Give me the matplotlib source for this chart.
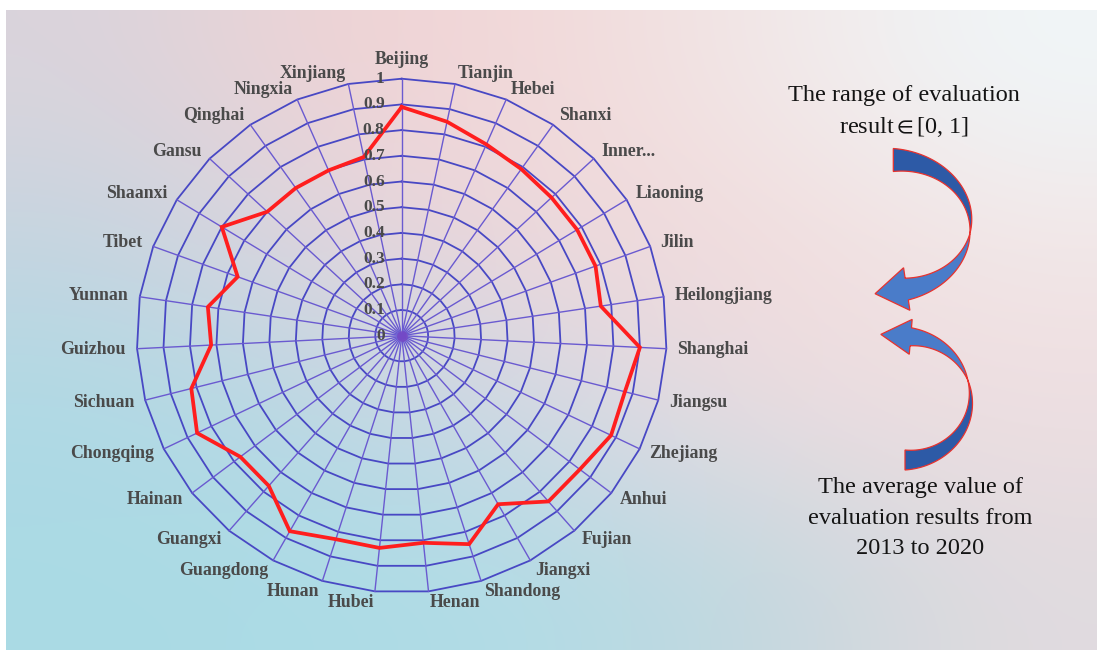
import numpy as np
import matplotlib
matplotlib.use('Agg')
import matplotlib.pyplot as plt
from matplotlib.patches import Polygon

plt.rcParams['mathtext.fontset'] = 'stix'

# ---------------- data ----------------
provinces = ['Beijing', 'Tianjin', 'Hebei', 'Shanxi', 'Inner...', 'Liaoning', 'Jilin',
             'Heilongjiang', 'Shanghai', 'Jiangsu', 'Zhejiang', 'Anhui', 'Fujian',
             'Jiangxi', 'Shandong', 'Henan', 'Hubei', 'Hunan', 'Guangdong', 'Guangxi',
             'Hainan', 'Chongqing', 'Sichuan', 'Guizhou', 'Yunnan', 'Tibet', 'Shaanxi',
             'Gansu', 'Qinghai', 'Ningxia', 'Xinjiang']
values = [0.89, 0.85, 0.81, 0.79, 0.78, 0.78, 0.78, 0.76, 0.90, 0.87, 0.88, 0.85, 0.85,
          0.75, 0.85, 0.81, 0.83, 0.83, 0.87, 0.77, 0.77, 0.86, 0.82, 0.72, 0.74, 0.66,
          0.80, 0.70, 0.70, 0.70, 0.71]
ring_values = [0.1, 0.2, 0.3, 0.4, 0.5, 0.6, 0.7, 0.8, 0.9, 1.0]
tick_values = [0, 0.1, 0.2, 0.3, 0.4, 0.5, 0.6, 0.7, 0.8, 0.9, 1.0]
tick_labels = ['0', '0.1', '0.2', '0.3', '0.4', '0.5', '0.6', '0.7', '0.8', '0.9', '1']
note_top = ['The range of evaluation', r'result$\in$[0, 1]']
note_bottom = ['The average value of', 'evaluation results from', '2013 to 2020']

W, H, DPI = 1097, 652, 100
fig = plt.figure(figsize=(W / DPI, H / DPI), dpi=DPI)
fig.patch.set_facecolor('white')

# ---------------- background gradient ----------------
bg = fig.add_axes([6 / W, 2 / H, 1 - 6 / W, 1 - 12 / H], zorder=0)
cols = np.array([
    [[218, 212, 220], [240, 210, 212], [242, 218, 218], [242, 232, 232], [240, 246, 248]],
    [[195, 213, 225], [225, 212, 222], [238, 215, 218], [242, 220, 220], [242, 230, 230]],
    [[174, 218, 229], [188, 215, 228], [212, 216, 228], [236, 220, 224], [238, 222, 225]],
    [[170, 218, 228], [172, 220, 230], [178, 220, 230], [195, 215, 222], [225, 219, 223]],
], dtype=float) / 255.0
bg.imshow(cols, aspect='auto', interpolation='bicubic', extent=[0, 1, 0, 1])
bg.set_xlim(0, 1)
bg.set_ylim(0, 1)
bg.axis('off')

# ---------------- radar chart ----------------
cx, cy, hu, vu = 401.7, 335.7, 265.0, 257.0
ax = fig.add_axes([(cx - hu) / W, (H - cy - vu) / H, 2 * hu / W, 2 * vu / H], zorder=1)
ax.set_xlim(-1, 1)
ax.set_ylim(-1, 1)
ax.axis('off')

n = len(provinces)
theta = 2 * np.pi * np.arange(n) / n
sx, cyv = np.sin(theta), np.cos(theta)

ring_color = '#4848c4'
spoke_color = '#6a5ad0'
for r in ring_values:
    ax.plot(np.append(r * sx, r * sx[0]), np.append(r * cyv, r * cyv[0]),
            color=ring_color, lw=1.3, clip_on=False, zorder=2)
for i in range(n):
    ax.plot([0, sx[i]], [0, cyv[i]], color=spoke_color, lw=1.0, clip_on=False, zorder=2)
ax.scatter([0], [0], s=60, color='#7a3fc0', alpha=0.6, lw=0, zorder=2)

v = np.array(values)
ax.plot(np.append(v * sx, v[0] * sx[0]), np.append(v * cyv, v[0] * cyv[0]),
        color='#ff1e1e', lw=2.7, clip_on=False, zorder=4, solid_joinstyle='miter')

lab_font = dict(family=['Liberation Serif', 'DejaVu Serif'], fontweight='bold',
                fontsize=12.8, color='#4a4a4a')
tick_font = dict(family=['Liberation Serif', 'DejaVu Serif'], fontweight='bold',
                 fontsize=12.5, color='#4a4a4a')
for t, lab in zip(tick_values, tick_labels):
    ax.annotate(lab, (0, t), xytext=(-17.0 * 0.72, 0), textcoords='offset points',
                ha='right', va='center', zorder=5, **tick_font)

pt = 72.0 / DPI
for i, name in enumerate(provinces):
    s, c = sx[i], cyv[i]
    if abs(s) < 0.05:
        ha = 'center'
    elif s > 0:
        ha = 'left'
    else:
        ha = 'right'
    va = 'bottom' if (abs(s) < 0.05 and c > 0) else 'center'
    ax.annotate(name, (s, c), xytext=(11 * pt * s, 11 * pt * c), textcoords='offset points',
                ha=ha, va=va, zorder=5, **lab_font)

# ---------------- decorations (pixel coordinates) ----------------
ov = fig.add_axes([0, 0, 1, 1], zorder=3)
ov.set_xlim(0, W)
ov.set_ylim(H, 0)
ov.axis('off')
ov.patch.set_alpha(0)


def curved_arrow(axo, ecx, ecy, rx, ry, p_tail, p_twist, p_head, w_tail, w_head,
                 head_half, head_len, dark, light, edge):
    p_tail, p_twist, p_head = np.radians([p_tail, p_twist, p_head])
    ph = np.linspace(p_tail, p_twist, 60)
    w = w_tail * (1 - (ph - p_tail) / (p_twist - p_tail))
    outer = np.c_[ecx + (rx + w) * np.cos(ph), ecy + (ry + w) * np.sin(ph)]
    inner = np.c_[ecx + (rx - w) * np.cos(ph), ecy + (ry - w) * np.sin(ph)]
    axo.add_patch(Polygon(np.vstack([outer, inner[::-1]]), closed=True, fc=dark,
                          ec=edge, lw=0.9, zorder=3))
    ph = np.linspace(p_twist, p_head, 60)
    w = w_head * (ph - p_twist) / (p_head - p_twist)
    outer = np.c_[ecx + (rx + w) * np.cos(ph), ecy + (ry + w) * np.sin(ph)]
    inner = np.c_[ecx + (rx - w) * np.cos(ph), ecy + (ry - w) * np.sin(ph)]
    sgn = np.sign(p_head - p_twist)
    b = np.array([ecx + rx * np.cos(p_head), ecy + ry * np.sin(p_head)])
    tg = sgn * np.array([-rx * np.sin(p_head), ry * np.cos(p_head)])
    tg = tg / np.hypot(*tg)
    nm = np.array([-tg[1], tg[0]])
    radial = np.array([np.cos(p_head), np.sin(p_head)])
    if np.dot(nm, radial) < 0:
        nm = -nm
    tip = b + head_len * tg
    pts = np.vstack([outer, [b + w_head * nm], [b + head_half * nm], [tip],
                     [b - head_half * nm], [b - w_head * nm], inner[::-1]])
    axo.add_patch(Polygon(pts, closed=True, fc=light, ec=edge, lw=0.9, zorder=3))


curved_arrow(ov, 893.3, 225.0, 77.3, 65.0, -90, 7.4, 80, 11.5, 11.0, 21.5, 32,
             '#2d5aa6', '#4a7cc9', '#e8322d')
curved_arrow(ov, 905.0, 398.3, 65.7, 61.7, 90, -17, -85, 10.0, 9.0, 17.5, 30,
             '#2d5aa6', '#4a7cc9', '#e8322d')

note_font = dict(family=['Liberation Serif', 'DejaVu Serif'],
                 fontsize=17.5, color='#141414')
for k, line in enumerate(note_top):
    ov.text(904, 95 + 32 * k, line, ha='center', va='center', **note_font)
for k, line in enumerate(note_bottom):
    ov.text(920, 488 + 30 * k, line, ha='center', va='center', **note_font)

fig.savefig('out.png', dpi=DPI)
